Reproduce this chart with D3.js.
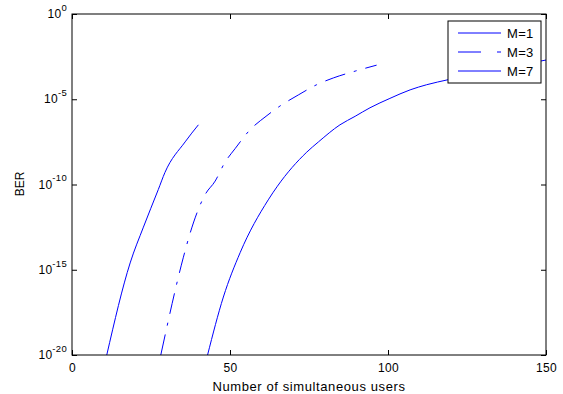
<!DOCTYPE html>
<html>
<head>
<meta charset="utf-8">
<script src="https://cdn.jsdelivr.net/npm/d3@7"></script>
<style>
  body { margin: 0; background: #fff; }
  text { font-family: "Liberation Sans", Arial, sans-serif; }
</style>
</head>
<body>
<svg id="chart" width="563" height="394"></svg>
<script>
// values (BER given as powers of ten)
const seriesNames = ["M=1", "M=3", "M=7"];
const usersM1 = [11, 18.4, 22.6, 27.3, 29.4, 35.8, 40];
const expM1 = [-20, -14.6, -12.5, -10.3, -9.3, -7.5, -6.5];
const usersM3 = [28.1, 35.2, 37.3, 42.1, 45.3, 48.4, 51.6, 56.3, 61.4, 65.8, 71.6, 77.4, 82.7, 89.6, 96.4];
const expM3 = [-20, -14.3, -12.9, -10.6, -9.8, -8.7, -7.9, -6.8, -6.0, -5.4, -4.75, -4.15, -3.75, -3.35, -3.0];
const usersM7 = [42.9, 47.9, 53.2, 62.1, 65, 74.3, 78, 84.8, 89.6, 94.3, 100.6, 107, 112.2, 119.1, 150];
const expM7 = [-20, -16.6, -14.0, -10.9, -10.1, -8.1, -7.5, -6.5, -6.0, -5.5, -4.95, -4.45, -4.15, -3.85, -2.7];
const xTicks = [0, 50, 100, 150];
const yTickExps = [-20, -15, -10, -5, 0];

const pLeft = 72, pRight = 546, pTop = 14, pBottom = 355;
const svg = d3.select("#chart");

const x = d3.scaleLinear().domain([0, 150]).range([pLeft, pRight]);
const y = d3.scaleLog().domain([1e-20, 1]).range([pBottom, pTop]);

const toPts = (xs, es) => xs.map((u, i) => ({ u: u, ber: Math.pow(10, es[i]) }));
const series = [
  { name: seriesNames[0], pts: toPts(usersM1, expM1), dash: null },
  { name: seriesNames[1], pts: toPts(usersM3, expM3), dash: "21,9,3,9" },
  { name: seriesNames[2], pts: toPts(usersM7, expM7), dash: null }
];

svg.append("clipPath").attr("id", "clip")
  .append("rect").attr("x", pLeft).attr("y", pTop)
  .attr("width", pRight - pLeft).attr("height", pBottom - pTop);

const line = d3.line()
  .x(d => x(d.u))
  .y(d => y(d.ber))
  .curve(d3.curveMonotoneX);

const g = svg.append("g").attr("clip-path", "url(#clip)");
series.forEach(s => {
  g.append("path")
    .datum(s.pts)
    .attr("d", line)
    .attr("fill", "none")
    .attr("stroke", "#0000ff")
    .attr("stroke-width", 1)
    .attr("stroke-dasharray", s.dash);
});

// axes, ticks inward like matlab
const yTickVals = yTickExps.map(e => Math.pow(10, e));

svg.append("g").attr("transform", "translate(0," + pBottom + ")")
  .call(d3.axisBottom(x).tickValues(xTicks).tickSize(-5).tickPadding(8))
  .call(a => a.select(".domain").remove());
svg.append("g").attr("transform", "translate(0," + pTop + ")")
  .call(d3.axisTop(x).tickValues(xTicks).tickSize(-5).tickFormat(""))
  .call(a => a.select(".domain").remove());

const yAxis = svg.append("g").attr("transform", "translate(" + pLeft + ",0)")
  .call(d3.axisLeft(y).tickValues(yTickVals).tickSize(-5).tickPadding(5).tickFormat(""))
  .call(a => a.select(".domain").remove());
svg.append("g").attr("transform", "translate(" + pRight + ",0)")
  .call(d3.axisRight(y).tickValues(yTickVals).tickSize(-5).tickFormat(""))
  .call(a => a.select(".domain").remove());

svg.selectAll(".tick text").attr("font-size", 12).attr("fill", "#000")
  .attr("letter-spacing", 0.3)
  .attr("font-family", "'Liberation Sans', Arial, sans-serif");
svg.selectAll(".tick line").attr("stroke", "#000");

yAxis.selectAll(".tick").each(function(d) {
  const t = d3.select(this).select("text").attr("dy", "0.3em");
  t.append("tspan").text("10");
  t.append("tspan").attr("dy", "-0.75em").attr("font-size", 9.5)
    .text(Math.round(Math.log10(d)));
});

svg.append("rect")
  .attr("x", pLeft).attr("y", pTop)
  .attr("width", pRight - pLeft).attr("height", pBottom - pTop)
  .attr("fill", "none").attr("stroke", "#000").attr("stroke-width", 1);

svg.append("text")
  .attr("x", (pLeft + pRight) / 2).attr("y", 391)
  .attr("text-anchor", "middle").attr("font-size", 13)
  .attr("letter-spacing", 0.6)
  .text("Number of simultaneous users");

svg.append("text")
  .attr("transform", "translate(24," + 184 + ") rotate(-90)")
  .attr("text-anchor", "middle").attr("font-size", 12)
  .text("BER");

// legend
const lg = svg.append("g");
lg.append("rect")
  .attr("x", 448).attr("y", 21).attr("width", 93).attr("height", 62)
  .attr("fill", "#fff").attr("stroke", "#000").attr("stroke-width", 1);
series.forEach((s, i) => {
  const yy = 33 + i * 19;
  lg.append("line")
    .attr("x1", 458).attr("x2", 501).attr("y1", yy).attr("y2", yy)
    .attr("stroke", "#0000ff").attr("stroke-width", 1)
    .attr("stroke-dasharray", s.dash ? "23,16,4,16" : null);
  lg.append("text")
    .attr("x", 507).attr("y", yy + 5).attr("font-size", 13)
    .attr("letter-spacing", 0.3)
    .text(s.name);
});
</script>
</body>
</html>
